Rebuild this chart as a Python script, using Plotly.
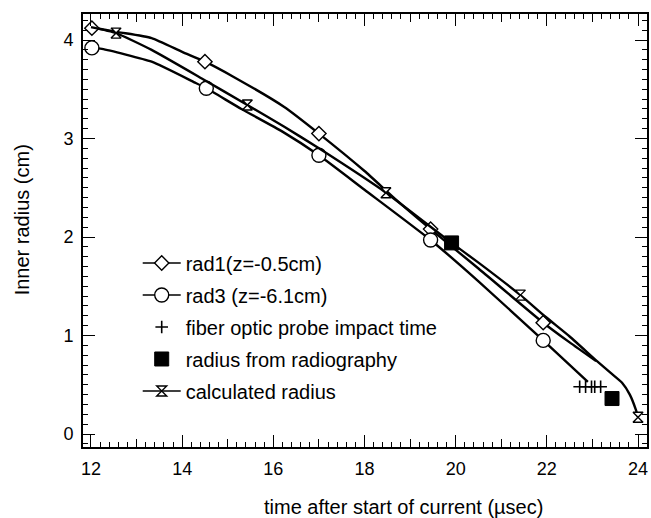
import plotly.graph_objects as go

# ---- data ----
rad1_x = [12.0, 12.6, 13.33, 14.0, 14.5, 15.15, 16.24, 17.0, 18.0, 18.69, 19.45, 20.5, 21.92, 22.5, 23.08]
rad1_y = [4.13, 4.08, 4.02, 3.88, 3.78, 3.62, 3.32, 3.05, 2.67, 2.38, 2.08, 1.68, 1.13, 0.93, 0.74]
rad1_mx = [12.02, 14.5, 17.0, 19.45, 21.92]
rad1_my = [4.12, 3.78, 3.05, 2.08, 1.13]

rad3_x = [12.0, 12.24, 13.33, 14.27, 14.53, 15.3, 16.2, 17.0, 18.0, 19.45, 20.5, 21.92, 22.9]
rad3_y = [3.92, 3.91, 3.78, 3.57, 3.51, 3.30, 3.07, 2.83, 2.48, 1.97, 1.55, 0.95, 0.53]
rad3_mx = [12.02, 14.53, 17.0, 19.45, 21.92]
rad3_my = [3.92, 3.51, 2.83, 1.97, 0.95]

calc_x = [12.0, 12.55, 13.33, 14.43, 15.43, 16.24, 17.0, 18.47, 19.91, 20.5, 21.42, 21.97, 22.5, 23.1, 23.4, 23.65, 23.82, 23.95, 24.0]
calc_y = [4.13, 4.07, 3.90, 3.61, 3.34, 3.12, 2.90, 2.45, 1.94, 1.74, 1.41, 1.19, 0.99, 0.74, 0.62, 0.52, 0.40, 0.25, 0.17]
calc_mx = [12.55, 15.43, 18.47, 21.42, 24.0]
calc_my = [4.07, 3.34, 2.45, 1.41, 0.17]

fiber_x = [22.72, 22.85, 22.98, 23.05, 23.18]
fiber_y = [0.48, 0.48, 0.48, 0.48, 0.48]

radiog_x = [19.91, 23.43]
radiog_y = [1.94, 0.36]

x_ticks = [12, 14, 16, 18, 20, 22, 24]
x_mid_ticks = [13, 15, 17, 19, 21, 23]
y_ticks = [0, 1, 2, 3, 4]

FONT = "Arial, Liberation Sans, Helvetica, sans-serif"
LW = 2.4

fig = go.Figure()

def series(name, lx, ly, mx, my, symbol, size, fill="white", group="g"):
    fig.add_trace(go.Scatter(x=lx, y=ly, mode="lines",
                             line=dict(color="black", width=LW, shape="spline", smoothing=0.5),
                             showlegend=False, hoverinfo="skip"))
    fig.add_trace(go.Scatter(x=mx, y=my, mode="markers",
                             marker=dict(symbol=symbol, size=size, color=fill,
                                         line=dict(color="black", width=1.4)),
                             showlegend=False))
    fig.add_trace(go.Scatter(x=[None], y=[None], mode="lines+markers", name=name,
                             legendgroup=group,
                             line=dict(color="black", width=1.6),
                             marker=dict(symbol=symbol, size=size, color=fill,
                                         line=dict(color="black", width=1.4))))

series("rad1(z=-0.5cm)", rad1_x, rad1_y, rad1_mx, rad1_my, "diamond", 11, group="a")
series("rad3 (z=-6.1cm)", rad3_x, rad3_y, rad3_mx, rad3_my, "circle", 14, group="b")

fig.add_trace(go.Scatter(x=fiber_x, y=fiber_y, mode="markers", name="fiber optic probe impact time",
                         legendgroup="c",
                         marker=dict(symbol="cross-thin-open", size=9, color="black",
                                     line=dict(color="black", width=1.6))))
fig.add_trace(go.Scatter(x=radiog_x, y=radiog_y, mode="markers", name="radius from radiography",
                         legendgroup="d",
                         marker=dict(symbol="square", size=14, color="black",
                                     line=dict(color="black", width=1))))

series("calculated radius", calc_x, calc_y, calc_mx, calc_my, "hourglass", 10, group="e")

axis_common = dict(
    showline=True, linecolor="black", linewidth=2, mirror="ticks",
    ticks="inside", tickcolor="black", tickwidth=1.3,
    showgrid=False, zeroline=False,
    tickfont=dict(family=FONT, size=18, color="black"),
)

fig.update_xaxes(range=[11.825, 24.197], tickvals=x_ticks, ticklen=12, ticklabelstandoff=4,
                 minor=dict(dtick=0.2, tick0=12, ticklen=5, ticks="inside", tickcolor="black",
                            tickwidth=1.2, showgrid=False),
                 **axis_common)
fig.update_yaxes(range=[-0.132, 4.264], tickvals=y_ticks, ticklen=12, ticklabelstandoff=4,
                 minor=dict(dtick=0.1, tick0=0, ticklen=5, ticks="inside", tickcolor="black",
                            tickwidth=1.2, showgrid=False),
                 **axis_common)

fig.update_layout(
    xaxis2=dict(overlaying="x", matches="x", anchor="y", side="bottom",
                tickvals=x_mid_ticks, ticks="inside", ticklen=8, tickwidth=1.3,
                tickcolor="black", showticklabels=False, showline=False,
                showgrid=False, zeroline=False, mirror="ticks"),
)
fig.add_trace(go.Scatter(x=[None], y=[None], xaxis="x2", showlegend=False))

fig.update_layout(
    width=651, height=518,
    margin=dict(l=83, r=2, t=14, b=71),
    paper_bgcolor="white", plot_bgcolor="white",
    font=dict(family=FONT, color="black"),
    showlegend=True,
    legend=dict(x=0.097, y=0.47, xanchor="left", yanchor="top",
                bgcolor="rgba(0,0,0,0)", borderwidth=0, itemwidth=38,
                font=dict(family=FONT, size=20, color="black"),
                traceorder="grouped", tracegroupgap=3),
    annotations=[
        dict(text="time after start of current (µsec)", xref="paper", yref="paper",
             x=0.569, y=-0.1386, xanchor="center", yanchor="middle", showarrow=False,
             font=dict(family=FONT, size=20, color="black")),
        dict(text="Inner radius (cm)", xref="paper", yref="paper",
             x=-0.1078, y=0.524, xanchor="center", yanchor="middle", showarrow=False,
             textangle=-90, font=dict(family=FONT, size=20, color="black")),
    ],
)

fig.write_html("out.html", config={"displayModeBar": False},
               post_script="document.body.style.margin='0';document.body.style.overflow='hidden';")
